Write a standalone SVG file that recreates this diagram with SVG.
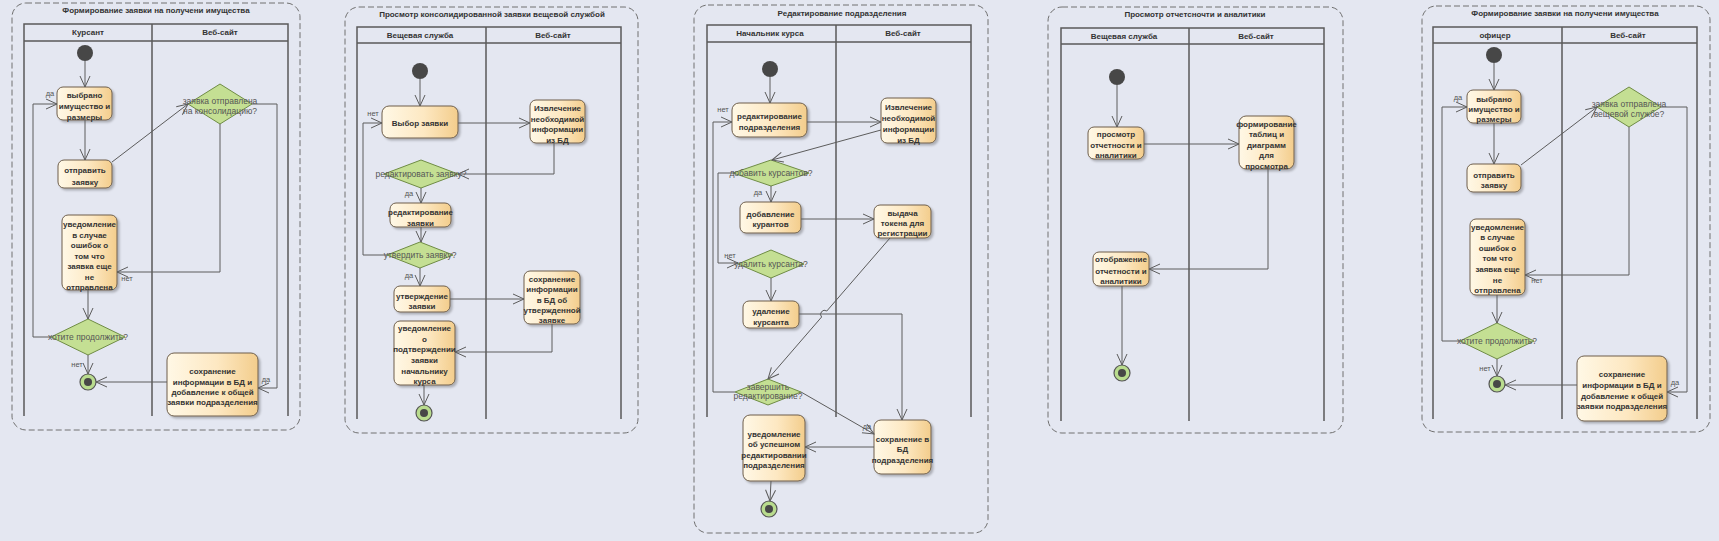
<svg xmlns="http://www.w3.org/2000/svg" width="1719" height="541" viewBox="0 0 1719 541">
<defs>
<linearGradient id="bg1" x1="0" y1="0" x2="1" y2="0">
<stop offset="0" stop-color="#fff8e6"/>
<stop offset="0.55" stop-color="#fde8c2"/>
<stop offset="1" stop-color="#f3cd8c"/>
</linearGradient>
<filter id="sh" x="-20%" y="-20%" width="140%" height="140%">
<feDropShadow dx="2" dy="2" stdDeviation="1.2" flood-color="#000" flood-opacity="0.25"/>
</filter>
<marker id="a" markerUnits="userSpaceOnUse" markerWidth="14" markerHeight="12" refX="12" refY="6" orient="auto">
<path d="M1,1 L12,6 L1,11" fill="none" stroke="#5c5c5c" stroke-width="1"/>
</marker>
</defs>
<style>
.frame{fill:none;stroke:#707070;stroke-width:1;stroke-dasharray:6 3}
.lane{fill:none;stroke:#5a5a5a;stroke-width:1.5}
.box{fill:url(#bg1);stroke:#6e5f4c;stroke-width:1;filter:url(#sh)}
.dia{fill:#c4df93;stroke:#6f8c45;stroke-width:1}
.start{fill:#474747}
.endo{fill:#b9dc8e;stroke:#555;stroke-width:1.2}
.endi{fill:#474747}
.conn{fill:none;stroke:#5c5c5c;stroke-width:1;marker-end:url(#a)}
.t{font-family:"Liberation Sans",Arial,sans-serif;font-size:8px;font-weight:bold;fill:#333;text-anchor:middle}
.title{font-family:"Liberation Sans",Arial,sans-serif;font-size:8px;font-weight:bold;fill:#333;text-anchor:middle}
.dt{font-family:"Liberation Sans",Arial,sans-serif;font-size:8.5px;fill:#555;text-anchor:middle}
.lbl{font-family:"Liberation Sans",Arial,sans-serif;font-size:7.5px;fill:#555;text-anchor:middle}
</style>
<rect x="0" y="0" width="1719" height="541" fill="#e4e7f1"/>

<!-- Panel 1 -->
<g id="panel1">
<rect class="frame" x="12" y="3" width="288" height="427" rx="14"/>
<text class="title" x="156" y="13">Формирование заявки на получени имущества</text>
<path class="lane" d="M24,416 L24,24 L288,24 L288,416 M24,41 L288,41 M152,24 L152,416"/>
<text class="title" x="88" y="35">Курсант</text>
<text class="title" x="220" y="35">Веб-сайт</text>
</g>
<g id="p1-start"><circle class="start" cx="85" cy="53" r="8"/></g>
<g id="p1-n1"><rect class="box" x="57" y="87" width="55" height="33" rx="6"/>
<text class="t" x="84.5" y="98">выбрано</text><text class="t" x="84.5" y="109">имущество и</text><text class="t" x="84.5" y="120">размеры</text></g>
<g id="p1-n2"><rect class="box" x="58" y="160" width="54" height="28" rx="6"/>
<text class="t" x="85" y="173">отправить</text><text class="t" x="85" y="185">заявку</text></g>
<g id="p1-d1"><path class="dia" d="M188,104 L220,84 L252,104 L220,124 Z"/>
<text class="dt" x="220" y="104">заявка отправлена</text><text class="dt" x="220" y="114">на консолидацию?</text></g>
<g id="p1-n3"><rect class="box" x="62" y="215" width="55" height="75" rx="6"/>
<text class="t" x="89.5" y="227">уведомление</text><text class="t" x="89.5" y="237.5">в случае</text><text class="t" x="89.5" y="248">ошибок о</text><text class="t" x="89.5" y="258.5">том что</text><text class="t" x="89.5" y="269">заявка еще</text><text class="t" x="89.5" y="279.5">не</text><text class="t" x="89.5" y="290">отправлена</text></g>
<g id="p1-d2"><path class="dia" d="M51,337 L88,319 L125,337 L88,355 Z"/>
<text class="dt" x="88" y="340">хотите продолжить?</text></g>
<g id="p1-end"><circle class="endo" cx="88" cy="382" r="8"/><circle class="endi" cx="88" cy="382" r="4"/></g>
<g id="p1-n4"><rect class="box" x="167" y="353" width="91" height="63" rx="7"/>
<text class="t" x="212.5" y="374">сохранение</text><text class="t" x="212.5" y="385">информации  в БД и</text><text class="t" x="212.5" y="395">добавление к общей</text><text class="t" x="212.5" y="405">заявки подразделения</text></g>

<!-- Panel 2 -->
<g id="panel2">
<rect class="frame" x="345" y="7" width="293" height="426" rx="14"/>
<text class="title" x="492" y="17">Просмотр консолидированной заявки вещевой службой</text>
<path class="lane" d="M357,419 L357,27 L621,27 L621,419 M357,43 L621,43 M486,27 L486,419"/>
<text class="title" x="420" y="38">Вещевая служба</text>
<text class="title" x="553" y="38">Веб-сайт</text>
</g>
<g id="p2-start"><circle class="start" cx="420" cy="71" r="8"/></g>
<g id="p2-m1"><rect class="box" x="382" y="106" width="76" height="32" rx="7"/>
<text class="t" x="420" y="126">Выбор заявки</text></g>
<g id="p2-m2"><rect class="box" x="530" y="100" width="55" height="43" rx="6"/>
<text class="t" x="557.5" y="111">Извлечение</text><text class="t" x="557.5" y="122">необходимой</text><text class="t" x="557.5" y="132">информации</text><text class="t" x="557.5" y="143">из БД</text></g>
<g id="p2-d1"><path class="dia" d="M384,174 L421,160 L458,174 L421,188 Z"/>
<text class="dt" x="421" y="177">редактировать заявку?</text></g>
<g id="p2-m3"><rect class="box" x="390" y="203" width="61" height="24" rx="6"/>
<text class="t" x="420.5" y="215">редактирование</text><text class="t" x="420.5" y="226">заявки</text></g>
<g id="p2-d2"><path class="dia" d="M387,255 L420,242 L453,255 L420,268 Z"/>
<text class="dt" x="420" y="258">утвердить заявку?</text></g>
<g id="p2-m4"><rect class="box" x="394" y="286" width="56" height="26" rx="6"/>
<text class="t" x="422" y="299">утверждение</text><text class="t" x="422" y="309">заявки</text></g>
<g id="p2-m5"><rect class="box" x="524" y="271" width="56" height="53" rx="6"/>
<text class="t" x="552" y="282">сохранение</text><text class="t" x="552" y="292">информации</text><text class="t" x="552" y="303">в БД об</text><text class="t" x="552" y="313">утвержденной</text><text class="t" x="552" y="323">заявке</text></g>
<g id="p2-m6"><rect class="box" x="394" y="321" width="61" height="64" rx="6"/>
<text class="t" x="424.5" y="331">уведомление</text><text class="t" x="424.5" y="342">о</text><text class="t" x="424.5" y="352">подтверждении</text><text class="t" x="424.5" y="363">заявки</text><text class="t" x="424.5" y="374">начальнику</text><text class="t" x="424.5" y="384">курса</text></g>
<g id="p2-end"><circle class="endo" cx="424" cy="413" r="8"/><circle class="endi" cx="424" cy="413" r="4"/></g>

<!-- Panel 3 -->
<g id="panel3">
<rect class="frame" x="694" y="5" width="294" height="528" rx="14"/>
<text class="title" x="842" y="16">Редактирование подразделения</text>
<path class="lane" d="M707,417 L707,25 L971,25 L971,417 M707,42 L971,42 M836,25 L836,417"/>
<text class="title" x="770" y="36">Начальник курса</text>
<text class="title" x="903" y="36">Веб-сайт</text>
</g>
<g id="p3-start"><circle class="start" cx="770" cy="69" r="8"/></g>
<g id="p3-n1"><rect class="box" x="732" y="103" width="75" height="34" rx="7"/>
<text class="t" x="769.5" y="119">редактирование</text><text class="t" x="769.5" y="130">подразделения</text></g>
<g id="p3-n2"><rect class="box" x="881" y="98" width="55" height="45" rx="6"/>
<text class="t" x="908.5" y="110">Извлечение</text><text class="t" x="908.5" y="121">необходимой</text><text class="t" x="908.5" y="132">информации</text><text class="t" x="908.5" y="143">из БД</text></g>
<g id="p3-d1"><path class="dia" d="M733,173 L771,160 L809,173 L771,186 Z"/>
<text class="dt" x="771" y="176">добавить курсантов?</text></g>
<g id="p3-n3"><rect class="box" x="740" y="202" width="61" height="31" rx="6"/>
<text class="t" x="770.5" y="217">добавление</text><text class="t" x="770.5" y="227">курантов</text></g>
<g id="p3-n4"><rect class="box" x="874" y="205" width="57" height="33" rx="6"/>
<text class="t" x="902.5" y="216">выдача</text><text class="t" x="902.5" y="226">токена для</text><text class="t" x="902.5" y="236">регистрации</text></g>
<g id="p3-d2"><path class="dia" d="M738,264 L771,250 L804,264 L771,278 Z"/>
<text class="dt" x="771" y="267">удалить курсанта?</text></g>
<g id="p3-n5"><rect class="box" x="743" y="301" width="56" height="27" rx="6"/>
<text class="t" x="771" y="314">удаление</text><text class="t" x="771" y="325">курсанта</text></g>
<g id="p3-d3"><path class="dia" d="M735,392 L768,379 L801,392 L768,405 Z"/>
<text class="dt" x="768" y="390">завершить</text><text class="dt" x="768" y="399">редактирование?</text></g>
<g id="p3-n6"><rect class="box" x="874" y="420" width="57" height="54" rx="7"/>
<text class="t" x="902.5" y="442">сохранение в</text><text class="t" x="902.5" y="452">БД</text><text class="t" x="902.5" y="463">подразделения</text></g>
<g id="p3-n7"><rect class="box" x="743" y="415" width="62" height="66" rx="7"/>
<text class="t" x="774" y="437">уведомление</text><text class="t" x="774" y="447">об успешном</text><text class="t" x="774" y="458">редактировании</text><text class="t" x="774" y="468">подразделения</text></g>
<g id="p3-end"><circle class="endo" cx="769" cy="509" r="8"/><circle class="endi" cx="769" cy="509" r="4"/></g>

<!-- Panel 4 -->
<g id="panel4">
<rect class="frame" x="1048" y="7" width="295" height="426" rx="14"/>
<text class="title" x="1195" y="17">Просмотр отчетсночти и аналитики</text>
<path class="lane" d="M1061,421 L1061,28 L1324,28 L1324,421 M1061,44 L1324,44 M1189,28 L1189,421"/>
<text class="title" x="1124" y="39">Вещевая служба</text>
<text class="title" x="1256" y="39">Веб-сайт</text>
</g>
<g id="p4-start"><circle class="start" cx="1117" cy="77" r="8"/></g>
<g id="p4-n1"><rect class="box" x="1088" y="127" width="56" height="32" rx="6"/>
<text class="t" x="1116" y="137">просмотр</text><text class="t" x="1116" y="148">отчетности и</text><text class="t" x="1116" y="158">аналитики</text></g>
<g id="p4-n2"><rect class="box" x="1239" y="116" width="55" height="53" rx="7"/>
<text class="t" x="1266.5" y="127">формирование</text><text class="t" x="1266.5" y="137">таблиц и</text><text class="t" x="1266.5" y="148">диаграмм</text><text class="t" x="1266.5" y="158">для</text><text class="t" x="1266.5" y="169">просмотра</text></g>
<g id="p4-n3"><rect class="box" x="1093" y="252" width="56" height="34" rx="6"/>
<text class="t" x="1121" y="262">отображение</text><text class="t" x="1121" y="274">отчетности и</text><text class="t" x="1121" y="284">аналитики</text></g>
<g id="p4-end"><circle class="endo" cx="1122" cy="373" r="8"/><circle class="endi" cx="1122" cy="373" r="4"/></g>

<!-- Panel 5 -->
<g id="panel5">
<rect class="frame" x="1422" y="6" width="288" height="426" rx="14"/>
<text class="title" x="1565" y="16">Формирование заявки на получени имущества</text>
<path class="lane" d="M1433,419 L1433,27 L1697,27 L1697,419 M1433,43 L1697,43 M1562,27 L1562,419"/>
<text class="title" x="1495" y="38">офицер</text>
<text class="title" x="1628" y="38">Веб-сайт</text>
</g>
<g id="p5-start"><circle class="start" cx="1494" cy="55" r="8"/></g>
<g id="p5-n1"><rect class="box" x="1467" y="90" width="54" height="33" rx="6"/>
<text class="t" x="1494" y="102">выбрано</text><text class="t" x="1494" y="112">имущество и</text><text class="t" x="1494" y="122">размеры</text></g>
<g id="p5-n2"><rect class="box" x="1467" y="164" width="54" height="28" rx="6"/>
<text class="t" x="1494" y="178">отправить</text><text class="t" x="1494" y="188">заявку</text></g>
<g id="p5-d1"><path class="dia" d="M1597,107 L1629,87 L1661,107 L1629,127 Z"/>
<text class="dt" x="1629" y="107">заявка отправлена</text><text class="dt" x="1629" y="117">вещевой службе?</text></g>
<g id="p5-n3"><rect class="box" x="1470" y="219" width="55" height="76" rx="6"/>
<text class="t" x="1497.5" y="230">уведомление</text><text class="t" x="1497.5" y="240">в случае</text><text class="t" x="1497.5" y="251">ошибок о</text><text class="t" x="1497.5" y="261">том что</text><text class="t" x="1497.5" y="272">заявка еще</text><text class="t" x="1497.5" y="283">не</text><text class="t" x="1497.5" y="293">отправлена</text></g>
<g id="p5-d2"><path class="dia" d="M1460,341 L1497,323 L1534,341 L1497,359 Z"/>
<text class="dt" x="1497" y="344">хотите продолжить?</text></g>
<g id="p5-end"><circle class="endo" cx="1497" cy="384" r="8"/><circle class="endi" cx="1497" cy="384" r="4"/></g>
<g id="p5-n4"><rect class="box" x="1577" y="356" width="90" height="65" rx="7"/>
<text class="t" x="1622" y="377">сохранение</text><text class="t" x="1622" y="388">информации  в БД и</text><text class="t" x="1622" y="399">добавление к общей</text><text class="t" x="1622" y="409">заявки подразделения</text></g>

<!-- Connectors -->
<g id="connectors">
<path class="conn" d="M85,61 L85,87"/>
<path class="conn" d="M85,120 L85,160"/>
<path class="conn" d="M112,162 L188,104"/>
<path class="conn" d="M252,104 L277,104 L277,388 L258,388"/>
<path class="conn" d="M220,124 L220,272 L117,272"/>
<path class="conn" d="M88,290 L88,319"/>
<path class="conn" d="M51,337 L33,337 L33,104 L57,104"/>
<path class="conn" d="M88,355 L88,374"/>
<path class="conn" d="M167,382 L96,382"/>

<path class="conn" d="M420,79 L420,106"/>
<path class="conn" d="M458,123 L530,123"/>
<path class="conn" d="M554,143 L554,174 L458,174"/>
<path class="conn" d="M421,188 L421,203"/>
<path class="conn" d="M421,227 L421,242"/>
<path class="conn" d="M387,255 L363,255 L363,123 L382,123"/>
<path class="conn" d="M420,268 L420,286"/>
<path class="conn" d="M450,299 L524,299"/>
<path class="conn" d="M552,324 L552,352 L455,352"/>
<path class="conn" d="M424,385 L424,405"/>

<path class="conn" d="M770,77 L770,103"/>
<path class="conn" d="M807,122 L881,122"/>
<path class="conn" d="M881,130 L772,160"/>
<path class="conn" d="M771,186 L771,202"/>
<path class="conn" d="M733,173 L718,173 L718,263 L738,263"/>
<path class="conn" d="M801,219 L874,219"/>
<path class="conn" d="M890,238 L826.8,311 A4,4 0 0 0 821.6,317 L768,379"/>
<path class="conn" d="M771,278 L771,301"/>
<path class="conn" d="M799,314 L902,314 L902,420"/>
<path class="conn" d="M735,392 L713,392 L713,122 L732,122"/>
<path class="conn" d="M801,392 L874,434"/>
<path class="conn" d="M874,447 L805,447"/>
<path class="conn" d="M771,481 L770,501"/>

<path class="conn" d="M1117,85 L1117,127"/>
<path class="conn" d="M1144,144 L1239,144"/>
<path class="conn" d="M1268,169 L1268,269 L1149,269"/>
<path class="conn" d="M1122,286 L1122,365"/>

<path class="conn" d="M1494,63 L1494,90"/>
<path class="conn" d="M1494,123 L1494,164"/>
<path class="conn" d="M1521,165 L1597,107"/>
<path class="conn" d="M1661,107 L1687,107 L1687,392 L1667,392"/>
<path class="conn" d="M1629,127 L1629,275 L1525,275"/>
<path class="conn" d="M1497,295 L1497,323"/>
<path class="conn" d="M1460,341 L1442,341 L1442,107 L1467,107"/>
<path class="conn" d="M1497,359 L1497,376"/>
<path class="conn" d="M1577,385 L1505,385"/>

<text class="lbl" x="50" y="96">да</text>
<text class="lbl" x="266" y="382">да</text>
<text class="lbl" x="127" y="281">нет</text>
<text class="lbl" x="77" y="367">нет</text>
<text class="lbl" x="373" y="116">нет</text>
<text class="lbl" x="409" y="196">да</text>
<text class="lbl" x="409" y="278">да</text>
<text class="lbl" x="723" y="112">нет</text>
<text class="lbl" x="758" y="195">да</text>
<text class="lbl" x="730" y="258">нет</text>
<text class="lbl" x="867" y="429">да</text>
<text class="lbl" x="1458" y="100">да</text>
<text class="lbl" x="1675" y="385">да</text>
<text class="lbl" x="1537" y="283">нет</text>
<text class="lbl" x="1485" y="371">нет</text>
</g>
</svg>
